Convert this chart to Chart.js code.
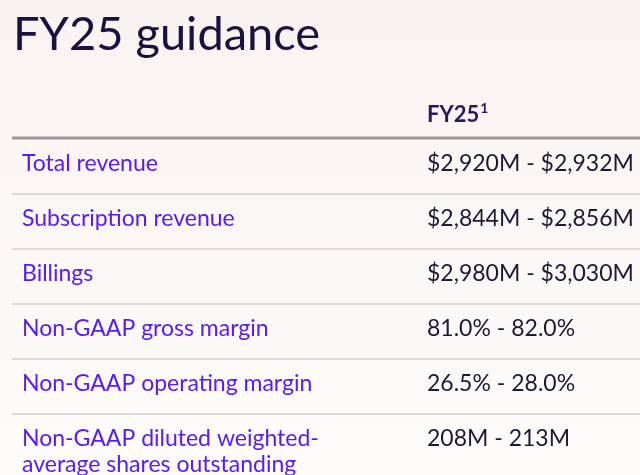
<!DOCTYPE html>
<html><head><meta charset="utf-8">
<script src="https://cdn.jsdelivr.net/npm/chart.js@4"></script>
<style>html,body{margin:0;padding:0;background:#f9f6f4;overflow:hidden}#wrap{width:640px;height:475px}</style>
</head><body><div id="wrap"><canvas id="c" width="640" height="475"></canvas></div>
<script>
const title = 'FY25 guidance';
const columnHeader = 'FY25';
const columnNote = '1';
const metrics = ['Total revenue','Subscription revenue','Billings','Non-GAAP gross margin','Non-GAAP operating margin',['Non-GAAP diluted weighted-','average shares outstanding']];
const guidance = ['$2,920M - $2,932M','$2,844M - $2,856M','$2,980M - $3,030M','81.0% - 82.0%','26.5% - 28.0%','208M - 213M'];

const FONT = 'Lato';
const tablePlugin = {
  id: 'guidanceTable',
  beforeDraw(chart) {
    const {ctx, width, height} = chart;
    const g = ctx.createLinearGradient(0, 0, 0, height);
    g.addColorStop(0, '#f7f3f0'); g.addColorStop(1, '#fdfcfb');
    ctx.save(); ctx.fillStyle = g; ctx.fillRect(0, 0, width, height); ctx.restore();
  },
  afterDraw(chart) {
    const {ctx, chartArea: a} = chart;
    const y = chart.scales.y;
    const colX = 427, labelX = 22;
    ctx.save();
    ctx.textBaseline = 'alphabetic'; ctx.textAlign = 'left';
    ctx.fillStyle = '#1b1140'; ctx.font = '400 47px ' + FONT;
    ctx.fillText(title, 13, 50);
    const top = y.getPixelForValue(-0.5);
    ctx.fillStyle = '#9c9a99';
    ctx.fillRect(a.left, top - 2.5, a.right - a.left, 3);
    ctx.fillStyle = '#2a1760'; ctx.font = '700 22px ' + FONT;
    ctx.fillText(columnHeader, colX, top - 17);
    const hw = ctx.measureText(columnHeader).width;
    ctx.font = '700 14px ' + FONT;
    ctx.fillText(columnNote, colX + hw + 1, top - 26);
    metrics.forEach((m, i) => {
      const base = y.getPixelForValue(i) + 4.5;
      const lines = Array.isArray(m) ? m : [m];
      ctx.fillStyle = '#5a1cf4'; ctx.font = '400 23px ' + FONT;
      lines.forEach((l, k) => ctx.fillText(l, labelX, base + k * 26));
      ctx.fillStyle = '#1d1836'; ctx.font = '400 23px ' + FONT;
      ctx.fillText(guidance[i], colX, base);
    });
    ctx.restore();
  }
};

new Chart(document.getElementById('c'), {
  type: 'bar',
  data: { labels: metrics, datasets: [{ data: metrics.map(() => null) }] },
  options: {
    indexAxis: 'y', responsive: false, animation: false,
    layout: { padding: { left: 12, right: 0, top: 139, bottom: 6 } },
    plugins: { legend: { display: false }, tooltip: { enabled: false }, title: { display: false } },
    scales: {
      x: { display: false, min: 0, max: 1 },
      y: {
        type: 'category', offset: true,
        afterFit(s) { s.width = 0; },
        ticks: { display: false },
        border: { display: false },
        grid: {
          offset: true, drawTicks: false,
          color: c => (c.index === undefined || c.index === 0) ? 'rgba(0,0,0,0)' : '#dedad8',
          lineWidth: 2
        }
      }
    }
  },
  plugins: [tablePlugin]
});
</script></body></html>
